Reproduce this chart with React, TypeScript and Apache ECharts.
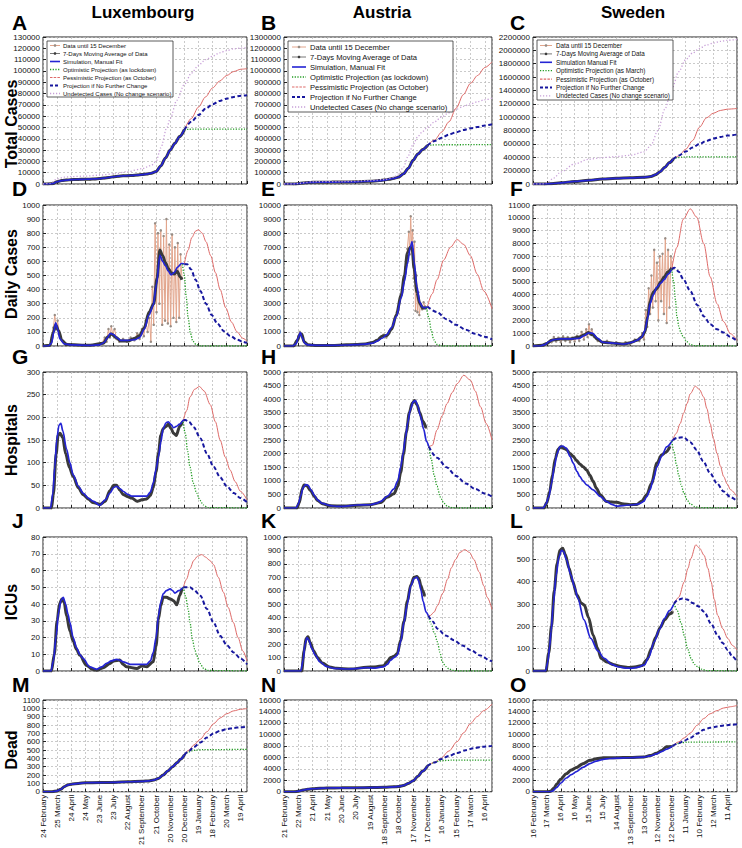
import React, { useEffect, useRef } from "react";
import * as echarts from "echarts";

type P = [number, number];

// ---------- tick labels ----------
const LUX_DATES = ["24 February","25 March","24 April","24 May","23 June","23 July","22 August","21 September","21 October","20 November","20 December","19 January","18 February","20 March","19 April"];
const AUT_DATES = ["21 February","22 March","21 April","21 May","20 June","20 July","19 August","18 September","18 October","17 November","17 December","16 January","15 February","17 March","16 April"];
const SWE_DATES = ["16 February","17 March","16 April","16 May","15 June","15 July","14 August","13 September","13 October","12 November","12 December","11 January","10 February","12 March","11 April"];

const COUNTRIES = ["Luxembourg", "Austria", "Sweden"];
const ROW_NAMES = ["Total Cases", "Daily Cases", "Hospitals", "ICUs", "Dead"];
const LETTERS = ["A","B","C","D","E","F","G","H","I","J","K","L","M","N","O"];
const LEGEND_LUX = ["Data until 15 December","7-Days Moving Average of Data","Simulation, Manual Fit","Optimistic Projection (as lockdown)","Pessimistic Projection (as October)","Projection if No Further Change","Undetected Cases (No change scenario)"];
const LEGEND_AUT = LEGEND_LUX;
const LEGEND_SWE = ["Data until 15 December","7-Days Moving Average of Data","Simulation Manual Fit","Optimistic Projection (as March)","Pessimistic Projection (as October)","Projection if No Further Change","Undetected Cases (No change scenario)"];

// ---------- axis ranges ----------
const X_MAX = [433, 435, 441];
const Y_MAX = [130000, 1300000, 2200000, 1000, 10000, 11000, 300, 5000, 5000, 80, 1000, 600, 1100, 16000, 16000];
const Y_STEP = [10000, 100000, 200000, 100, 1000, 1000, 50, 500, 500, 10, 100, 100, 100, 2000, 2000];

// ---------- A: Luxembourg total ----------
const LUX_TOTAL: P[] = [[0,0],[10,0],[20,300],[30,2000],[40,3000],[50,3500],[60,3800],[70,4000],[80,4100],[90,4200],[100,4300],[110,4500],[120,4800],[130,5200],[140,5800],[150,6400],[160,6900],[170,7200],[180,7400],[190,7600],[200,7900],[210,8300],[220,8800],[230,9600],[240,11000],[250,16000],[260,23000],[270,30000],[280,36000],[290,42000],[300,48000]];
const LUX_TOTAL_OPT: P[] = [[300,48000],[310,48400],[325,48500],[433,48600]];
const LUX_TOTAL_PESS: P[] = [[300,48000],[315,58000],[330,68000],[345,77000],[360,85000],[375,91000],[390,96000],[405,99500],[420,101500],[433,102000]];
const LUX_TOTAL_NOCHG: P[] = [[300,48000],[315,55000],[330,61000],[345,66500],[360,70500],[375,73500],[390,75500],[405,77000],[420,78000],[433,78500]];
const LUX_TOTAL_UNDET: P[] = [[0,0],[15,500],[30,4500],[45,6000],[60,6500],[90,7000],[120,7800],[150,9000],[180,11000],[210,13500],[230,16500],[240,20000],[250,32000],[263,50000],[270,58000],[284,74000],[300,88000],[315,98000],[330,105000],[345,110000],[360,113000],[375,116000],[390,118000],[405,119500],[420,120200],[433,120500]];

// ---------- B: Austria total ----------
const AUT_TOTAL: P[] = [[0,0],[20,0],[25,1000],[30,3000],[40,9000],[50,13000],[60,15000],[80,16000],[100,17000],[120,17500],[150,19500],[180,25000],[200,30000],[210,35000],[220,42000],[230,50000],[240,62000],[250,90000],[260,140000],[270,210000],[280,265000],[290,305000],[300,340000]];
const AUT_TOTAL_OPT: P[] = [[300,340000],[310,345000],[325,347000],[435,348000]];
const AUT_TOTAL_PESS: P[] = [[300,340000],[315,390000],[330,460000],[345,550000],[360,670000],[375,790000],[390,890000],[405,960000],[420,1030000],[435,1080000]];
const AUT_TOTAL_NOCHG: P[] = [[300,340000],[315,380000],[330,410000],[345,437000],[360,458000],[375,477000],[390,492000],[405,505000],[420,518000],[435,528000]];
const AUT_TOTAL_UNDET: P[] = [[0,0],[20,0],[30,6000],[60,20000],[120,22000],[180,30000],[210,40000],[230,60000],[240,90000],[250,150000],[260,250000],[270,350000],[280,420000],[290,465000],[300,500000],[315,550000],[330,595000],[345,630000],[360,660000],[375,686000],[390,708000],[405,728000],[420,745000],[435,760000]];

// ---------- C: Sweden total ----------
const SWE_TOTAL: P[] = [[0,0],[25,0],[40,5000],[60,18000],[90,38000],[120,55000],[150,75000],[180,85000],[210,92000],[240,100000],[255,112000],[265,140000],[275,185000],[285,250000],[295,320000],[303,370000]];
const SWE_TOTAL_OPT: P[] = [[303,370000],[310,390000],[320,402000],[335,405000],[441,406000]];
const SWE_TOTAL_PESS: P[] = [[303,370000],[315,420000],[330,520000],[345,650000],[360,850000],[375,990000],[390,1060000],[405,1100000],[420,1120000],[441,1130000]];
const SWE_TOTAL_NOCHG: P[] = [[303,370000],[315,425000],[330,485000],[345,545000],[360,600000],[375,645000],[390,680000],[405,705000],[420,725000],[441,740000]];
const SWE_TOTAL_UNDET: P[] = [[0,0],[20,0],[30,20000],[45,90000],[60,180000],[90,300000],[120,370000],[150,395000],[180,410000],[210,430000],[240,480000],[255,580000],[270,800000],[285,1120000],[300,1420000],[315,1680000],[330,1860000],[345,1960000],[360,2030000],[375,2080000],[390,2110000],[405,2135000],[420,2150000],[441,2165000]];

// ---------- D: Luxembourg daily ----------
const LUX_DAILY_RAW: P[] = [[0,0],[15,10],[19,60],[22,130],[25,220],[28,120],[31,180],[34,90],[37,60],[42,30],[50,15],[70,5],[100,5],[125,20],[131,60],[135,30],[139,120],[142,60],[145,140],[148,80],[152,120],[156,50],[162,30],[170,50],[178,30],[186,60],[194,40],[200,90],[205,50],[210,120],[214,70],[218,180],[222,100],[226,200],[229,30],[232,420],[235,150],[238,870],[241,240],[244,800],[247,300],[250,820],[253,150],[256,780],[259,180],[262,900],[265,160],[268,720],[271,140],[274,790],[277,200],[280,700],[283,170],[286,730],[289,200],[292,650],[295,480]];
const LUX_DAILY_AVG: P[] = [[0,0],[15,5],[22,100],[27,150],[33,110],[40,40],[50,10],[100,5],[128,20],[138,65],[145,85],[155,60],[165,35],[180,35],[195,55],[205,75],[215,130],[225,240],[235,300],[242,480],[248,680],[254,640],[260,590],[266,550],[272,520],[278,510],[285,530],[291,490],[295,470]];
const LUX_DAILY_SIM: P[] = [[0,0],[12,0],[18,20],[23,100],[27,165],[31,120],[36,50],[45,15],[60,8],[100,5],[120,8],[130,25],[137,60],[143,90],[150,80],[158,55],[165,40],[180,40],[195,45],[205,60],[215,120],[225,220],[234,290],[241,440],[248,645],[254,600],[260,570],[266,530],[272,505],[278,520],[286,560],[294,585],[300,582]];
const LUX_DAILY_OPT: P[] = [[296,580],[300,500],[304,350],[308,200],[313,90],[318,35],[325,10],[335,0],[433,0]];
const LUX_DAILY_PESS: P[] = [[300,582],[308,680],[316,770],[324,815],[330,825],[338,800],[346,740],[356,640],[366,520],[376,400],[388,270],[400,170],[412,100],[424,55],[433,35]];
const LUX_DAILY_NOCHG: P[] = [[300,582],[306,580],[314,545],[324,470],[334,390],[346,300],[358,220],[370,160],[384,105],[398,70],[412,45],[424,30],[433,22]];

// ---------- E: Austria daily ----------
const AUT_DAILY_RAW: P[] = [[0,0],[20,0],[26,300],[30,700],[33,1000],[36,800],[39,600],[44,200],[55,60],[80,40],[110,50],[140,90],[160,110],[180,180],[190,300],[200,500],[208,800],[214,600],[220,900],[228,1500],[236,2400],[244,3500],[250,4500],[254,5600],[258,6900],[261,8100],[263,6500],[265,9200],[267,7000],[269,8200],[271,4800],[273,7400],[275,2500],[277,5000],[279,2400],[281,3800],[283,2200],[286,3000],[289,2600],[292,3100],[295,2800]];
const AUT_DAILY_AVG: P[] = [[0,0],[20,0],[28,400],[33,800],[37,850],[42,300],[50,80],[70,40],[100,40],[130,80],[150,100],[170,150],[185,250],[195,400],[205,700],[215,750],[225,1200],[235,2200],[245,3600],[252,5000],[258,6600],[264,7000],[268,6900],[272,5500],[278,3800],[284,3000],[290,2700],[298,2700]];
const AUT_DAILY_SIM: P[] = [[0,0],[18,0],[25,150],[30,600],[34,950],[38,600],[43,200],[50,80],[70,40],[100,40],[130,70],[150,100],[170,130],[185,200],[195,350],[205,550],[215,800],[225,1300],[235,2100],[245,3400],[252,4600],[258,5800],[264,7000],[268,7400],[272,6000],[278,4200],[284,3100],[290,2750],[296,2700],[300,2800]];
const AUT_DAILY_OPT: P[] = [[298,2700],[303,2000],[308,1100],[313,450],[320,120],[330,0],[435,0]];
const AUT_DAILY_PESS: P[] = [[300,2800],[310,3700],[320,4700],[334,6100],[348,7000],[362,7550],[376,7200],[390,6400],[404,5100],[418,3900],[435,2650]];
const AUT_DAILY_NOCHG: P[] = [[300,2800],[320,2400],[340,1900],[360,1500],[380,1150],[400,870],[420,650],[435,480]];

// ---------- F: Sweden daily ----------
const SWE_DAILY_RAW: P[] = [[0,0],[20,50],[30,200],[40,300],[45,700],[50,350],[55,650],[60,300],[65,750],[70,400],[75,700],[80,300],[85,650],[90,350],[95,800],[100,400],[105,1100],[110,500],[115,1300],[118,700],[121,1700],[124,900],[127,1300],[132,700],[140,400],[150,300],[160,400],[170,200],[180,300],[190,100],[200,300],[210,150],[220,500],[230,400],[236,1000],[240,500],[244,2800],[247,1500],[250,4500],[253,2500],[256,5500],[259,3000],[262,7500],[265,3500],[268,6500],[271,2000],[274,7000],[277,3500],[280,7200],[283,2500],[286,8400],[289,1800],[292,7500],[295,3000],[298,7000],[301,6000]];
const SWE_DAILY_AVG: P[] = [[0,0],[20,50],[30,200],[40,450],[60,550],[80,550],[100,700],[112,900],[120,1050],[130,850],[140,500],[150,300],[165,250],[180,200],[195,150],[210,250],[225,450],[235,700],[242,1100],[248,2300],[253,3500],[260,4200],[268,4500],[276,5000],[284,5400],[292,5800],[300,6100]];
const SWE_DAILY_SIM: P[] = [[0,0],[15,0],[25,100],[35,350],[45,500],[60,550],[80,550],[100,600],[110,800],[120,1000],[128,1000],[140,600],[150,300],[165,250],[180,200],[195,150],[205,200],[215,300],[225,450],[235,700],[242,1200],[248,2200],[253,3300],[260,4000],[268,4600],[276,4900],[284,5200],[292,5600],[300,6000]];
const SWE_DAILY_OPT: P[] = [[300,6000],[304,5000],[308,3600],[311,2300],[316,1400],[320,1000],[325,700],[332,350],[340,120],[350,20],[441,0]];
const SWE_DAILY_PESS: P[] = [[300,6000],[311,7700],[325,9900],[340,10700],[354,10050],[369,8000],[383,5400],[398,3300],[412,1900],[427,960],[441,440]];
const SWE_DAILY_NOCHG: P[] = [[300,6000],[306,6100],[315,5800],[325,5200],[340,4300],[355,3200],[370,2300],[383,1700],[398,1300],[412,1050],[427,700],[441,400]];

// ---------- G: Luxembourg hospitals ----------
const LUX_HOSP_AVG: P[] = [[0,0],[18,0],[22,30],[28,120],[32,160],[36,165],[42,155],[48,120],[56,90],[64,70],[75,45],[85,30],[96,20],[106,12],[121,8],[132,15],[142,38],[150,50],[156,50],[163,40],[170,30],[180,25],[188,22],[200,15],[210,18],[220,20],[228,28],[234,45],[240,80],[245,120],[250,160],[255,175],[261,180],[266,185],[272,175],[277,165],[283,160],[290,180],[296,190]];
const LUX_HOSP_SIM: P[] = [[0,0],[16,0],[21,33],[25,90],[29,150],[34,183],[38,187],[42,170],[50,130],[57,100],[64,73],[75,48],[85,33],[96,22],[106,15],[121,6],[132,18],[142,33],[150,45],[156,48],[163,43],[170,37],[180,30],[188,26],[206,26],[220,26],[228,35],[234,55],[240,85],[245,113],[250,145],[255,175],[261,188],[266,190],[272,184],[277,177],[283,180],[290,185],[298,194]];
const LUX_HOSP_OPT: P[] = [[297,190],[302,165],[307,125],[312,90],[319,55],[326,33],[333,17],[340,7],[350,1],[433,0]];
const LUX_HOSP_PESS: P[] = [[298,194],[305,215],[312,245],[322,262],[332,268],[342,258],[355,228],[366,190],[376,150],[387,112],[397,84],[408,58],[419,37],[433,18]];
const LUX_HOSP_NOCHG: P[] = [[298,194],[302,194],[310,190],[320,178],[334,154],[348,120],[362,91],[376,68],[390,48],[405,33],[419,22],[433,13]];

// ---------- H: Austria hospitals ----------
const AUT_HOSP_AVG: P[] = [[0,0],[27,0],[32,200],[38,700],[42,850],[48,820],[55,650],[64,420],[70,280],[80,160],[97,80],[125,70],[153,100],[181,120],[202,200],[216,400],[230,520],[238,800],[244,1300],[250,2000],[256,2800],[262,3500],[268,3850],[273,3950],[278,3800],[284,3500],[290,3200],[297,2950]];
const AUT_HOSP_SIM: P[] = [[0,0],[25,0],[30,150],[35,450],[40,750],[45,860],[50,840],[57,650],[64,450],[70,300],[80,170],[97,85],[110,60],[125,60],[153,110],[181,120],[195,180],[202,240],[216,430],[230,700],[238,1000],[244,1500],[249,2000],[254,2600],[259,3150],[264,3600],[270,3900],[275,3950],[280,3750],[285,3400],[292,2900],[298,2450],[303,2250]];
const AUT_HOSP_OPT: P[] = [[303,2250],[308,1800],[314,1200],[320,800],[327,400],[334,180],[342,60],[352,10],[365,0],[435,0]];
const AUT_HOSP_PESS: P[] = [[303,2250],[310,2300],[320,2870],[331,3400],[341,3840],[352,4250],[362,4570],[376,4880],[390,4700],[400,4300],[411,3720],[423,3100],[435,2500]];
const AUT_HOSP_NOCHG: P[] = [[303,2250],[320,1850],[340,1500],[360,1180],[380,900],[400,700],[420,530],[435,420]];

// ---------- I: Sweden hospitals ----------
const SWE_HOSP_AVG: P[] = [[0,0],[24,0],[30,200],[36,600],[42,1200],[48,1800],[54,2150],[60,2250],[66,2200],[72,2150],[80,2000],[87,1900],[94,1750],[101,1620],[108,1520],[116,1400],[123,1200],[130,980],[137,730],[145,490],[159,240],[170,220],[181,210],[195,150],[210,120],[224,130],[235,250],[246,490],[256,900],[268,1650],[278,1950],[287,2050],[296,2250]];
const SWE_HOSP_SIM: P[] = [[0,0],[22,0],[28,150],[34,400],[40,900],[46,1500],[52,2000],[58,2250],[64,2280],[72,2200],[80,1900],[87,1650],[95,1350],[101,1160],[108,1000],[116,850],[130,670],[145,430],[159,240],[170,130],[181,70],[195,90],[210,110],[224,130],[232,170],[239,240],[246,420],[253,670],[260,1050],[268,1520],[278,1900],[289,2250],[302,2500]];
const SWE_HOSP_OPT: P[] = [[300,2450],[305,2050],[310,1600],[315,1200],[320,870],[326,560],[333,300],[340,150],[350,50],[360,10],[441,0]];
const SWE_HOSP_PESS: P[] = [[302,2500],[310,2750],[318,3100],[326,3500],[333,3840],[340,4200],[351,4480],[360,4350],[369,4080],[376,3650],[383,3100],[390,2550],[398,2000],[405,1550],[412,1160],[420,880],[427,670],[441,420]];
const SWE_HOSP_NOCHG: P[] = [[302,2500],[312,2580],[325,2600],[340,2420],[354,2130],[368,1720],[383,1280],[398,900],[412,610],[427,400],[441,250]];

// ---------- J: Luxembourg ICUs ----------
const LUX_ICU_AVG: P[] = [[0,0],[18,0],[24,10],[30,30],[35,40],[40,43],[45,41],[50,33],[57,24],[64,18],[71,13],[78,9.5],[92,3.5],[105,1],[114,0.5],[128,2],[142,4.5],[150,6],[163,6.5],[170,4],[177,2.5],[199,1.5],[210,3],[220,2.5],[234,5.5],[240,15],[245,31],[250,39],[255,44],[262,44],[270,43],[277,42],[284,39.5],[290,45],[295,49]];
const LUX_ICU_SIM: P[] = [[0,0],[17,0],[22,6],[28,21],[33,35],[38,42],[43,44],[48,40],[53,34],[57,29],[64,20],[71,14],[78,10],[85,7.5],[99,2.5],[114,1],[125,2.5],[135,4.5],[145,6],[156,7],[163,6.5],[170,5.5],[185,4],[200,4],[220,4],[228,6],[234,11],[240,20],[245,33],[250,41],[255,46],[262,48],[270,49],[275,48],[280,46.5],[288,48],[298,50]];
const LUX_ICU_OPT: P[] = [[298,50],[303,44],[308,37],[312,29],[317,19],[322,13],[326,9.5],[333,4.5],[341,1.6],[350,0.3],[433,0]];
const LUX_ICU_PESS: P[] = [[298,50],[305,55],[312,61],[320,66],[328,68.5],[337,69.5],[345,68],[354,66],[362,63.5],[372,56],[383,47],[393,38],[404,29],[414,20],[424,12],[433,6]];
const LUX_ICU_NOCHG: P[] = [[298,50],[305,50],[312,50],[320,48.5],[334,45],[348,37],[362,29],[376,21],[390,15.5],[405,11],[419,7.5],[433,4]];

// ---------- K: Austria ICUs ----------
const AUT_ICU_AVG: P[] = [[0,0],[37,0],[42,150],[46,240],[50,255],[55,210],[62,150],[70,100],[80,60],[95,30],[110,20],[140,15],[173,28],[190,30],[209,40],[216,70],[223,100],[230,110],[237,130],[244,230],[251,370],[258,520],[265,640],[272,700],[278,705],[282,690],[286,640],[290,600],[294,560]];
const AUT_ICU_SIM: P[] = [[0,0],[35,0],[40,80],[44,200],[48,250],[52,230],[58,170],[65,120],[75,69],[88,35],[103,20],[130,15],[150,18],[173,25],[190,22],[209,32],[216,50],[223,81],[230,100],[237,118],[244,220],[251,365],[258,500],[265,635],[272,690],[278,700],[282,670],[286,610],[291,520],[297,440],[302,412]];
const AUT_ICU_OPT: P[] = [[302,412],[308,350],[314,290],[321,217],[326,140],[331,69],[338,35],[345,15],[355,4],[365,0],[435,0]];
const AUT_ICU_PESS: P[] = [[302,412],[306,414],[314,440],[321,488],[332,580],[342,685],[350,770],[359,833],[368,885],[378,906],[388,885],[397,833],[408,740],[418,635],[425,550],[435,460]];
const AUT_ICU_NOCHG: P[] = [[302,412],[311,370],[321,315],[338,265],[356,229],[373,190],[391,155],[411,115],[432,76],[435,72]];

// ---------- L: Sweden ICUs ----------
const SWE_ICU_AVG: P[] = [[0,0],[28,0],[34,80],[40,200],[46,360],[52,480],[58,540],[64,550],[70,520],[78,460],[86,400],[95,340],[104,305],[111,295],[120,240],[130,160],[140,100],[147,57],[160,40],[175,28],[190,20],[205,16],[220,18],[236,25],[246,50],[256,100],[265,150],[275,195],[285,230],[295,255],[302,265]];
const SWE_ICU_SIM: P[] = [[0,0],[27,0],[32,40],[36,110],[39,176],[44,300],[50,429],[56,510],[62,540],[66,535],[72,500],[82,429],[90,375],[97,325],[110,230],[125,146],[140,90],[154,57],[170,30],[183,19],[200,13],[212,12],[225,16],[241,27],[250,60],[262,131],[273,185],[284,235],[295,270],[305,302]];
const SWE_ICU_OPT: P[] = [[305,302],[312,270],[320,215],[327,160],[334,101],[342,55],[349,30],[356,19],[365,8],[375,2],[441,0]];
const SWE_ICU_PESS: P[] = [[305,302],[315,330],[327,399],[335,460],[341,503],[352,565],[360,550],[370,518],[378,460],[385,400],[392,320],[399,250],[410,190],[421,146],[431,115],[441,94]];
const SWE_ICU_NOCHG: P[] = [[305,302],[313,318],[323,325],[333,320],[345,305],[357,290],[370,265],[385,212],[399,160],[410,125],[421,94],[431,65],[441,42]];

// ---------- M: Luxembourg dead ----------
const LUX_DEAD: P[] = [[0,0],[20,0],[30,10],[38,30],[45,60],[52,80],[60,90],[75,100],[90,108],[120,110],[150,112],[180,120],[210,125],[225,130],[235,140],[245,160],[255,200],[265,250],[275,300],[285,350],[292,390],[300,440]];
const LUX_DEAD_OPT: P[] = [[300,440],[307,470],[315,490],[325,500],[340,505],[433,508]];
const LUX_DEAD_PESS: P[] = [[300,440],[310,500],[320,560],[334,630],[348,720],[362,815],[376,885],[390,935],[405,970],[419,988],[433,998]];
const LUX_DEAD_NOCHG: P[] = [[300,440],[310,490],[320,535],[334,590],[348,650],[362,700],[376,730],[390,750],[405,765],[419,773],[433,777]];

// ---------- N: Austria dead ----------
const AUT_DEAD: P[] = [[0,0],[22,0],[30,100],[40,300],[50,450],[60,520],[75,600],[90,650],[120,680],[150,700],[180,730],[210,780],[230,850],[240,920],[250,1100],[260,1450],[270,1900],[280,2700],[290,3600],[300,4500]];
const AUT_DEAD_OPT: P[] = [[300,4500],[310,5000],[320,5300],[335,5450],[350,5500],[435,5500]];
const AUT_DEAD_PESS: P[] = [[300,4500],[315,5150],[327,5760],[345,7100],[362,8730],[376,10300],[390,11900],[404,13100],[418,14150],[435,15300]];
const AUT_DEAD_NOCHG: P[] = [[300,4500],[315,5100],[327,5650],[345,6250],[362,6770],[380,7250],[397,7600],[415,7850],[435,8000]];

// ---------- O: Sweden dead ----------
const SWE_DEAD_AVG: P[] = [[0,0],[32,0],[38,100],[45,600],[51,1290],[60,2200],[72,3130],[83,3800],[94,4250],[108,4900],[123,5480],[137,5750],[152,5930],[181,5950],[210,5960],[239,6050],[253,6300],[267,6700],[278,7200],[289,7830],[300,7900]];
const SWE_DEAD_SIM: P[] = [[0,0],[35,0],[42,100],[51,730],[60,1500],[72,2400],[83,3000],[94,3520],[108,4250],[123,4900],[137,5350],[152,5650],[166,5800],[181,5870],[210,5930],[239,6040],[253,6250],[267,6600],[278,7000],[289,7440],[302,8000]];
const SWE_DEAD_OPT: P[] = [[302,8000],[310,8350],[320,8550],[335,8650],[441,8700]];
const SWE_DEAD_PESS: P[] = [[302,8000],[315,8700],[327,9400],[340,10240],[355,11600],[369,12760],[383,13600],[398,14150],[412,14600],[427,14830],[441,15050]];
const SWE_DEAD_NOCHG: P[] = [[302,8000],[315,8450],[327,8900],[340,9400],[355,10150],[369,10800],[383,11150],[398,11360],[412,11550],[427,11680],[441,11750]];

// ---------- layout / style ----------
const FONT = '"Liberation Sans", Arial, Helvetica, sans-serif';
const COL_LEFT = [43, 284, 533];
const COL_WIDTH = [204, 208, 204];
const ROW_TOP = [37, 205, 372, 537, 700];
const ROW_HEIGHT = [147, 141, 136, 134, 96];

const C_DATA = "#e2a58c";
const C_DATA_MK = "#978c84";
const C_AVG = "#3a3a3a";
const C_SIM = "#2424d4";
const C_OPT = "#1f9a1f";
const C_PESS = "#de6a68";
const C_NOCHG = "#17179e";
const C_UNDET = "#c8a0d8";

type Panel = { raw: P[]; avg: P[]; sim: P[]; opt: P[]; pess: P[]; nochg: P[]; undet?: P[] };

const PANELS: Panel[] = [
  { raw: LUX_TOTAL, avg: LUX_TOTAL, sim: LUX_TOTAL, opt: LUX_TOTAL_OPT, pess: LUX_TOTAL_PESS, nochg: LUX_TOTAL_NOCHG, undet: LUX_TOTAL_UNDET },
  { raw: AUT_TOTAL, avg: AUT_TOTAL, sim: AUT_TOTAL, opt: AUT_TOTAL_OPT, pess: AUT_TOTAL_PESS, nochg: AUT_TOTAL_NOCHG, undet: AUT_TOTAL_UNDET },
  { raw: SWE_TOTAL, avg: SWE_TOTAL, sim: SWE_TOTAL, opt: SWE_TOTAL_OPT, pess: SWE_TOTAL_PESS, nochg: SWE_TOTAL_NOCHG, undet: SWE_TOTAL_UNDET },
  { raw: LUX_DAILY_RAW, avg: LUX_DAILY_AVG, sim: LUX_DAILY_SIM, opt: LUX_DAILY_OPT, pess: LUX_DAILY_PESS, nochg: LUX_DAILY_NOCHG },
  { raw: AUT_DAILY_RAW, avg: AUT_DAILY_AVG, sim: AUT_DAILY_SIM, opt: AUT_DAILY_OPT, pess: AUT_DAILY_PESS, nochg: AUT_DAILY_NOCHG },
  { raw: SWE_DAILY_RAW, avg: SWE_DAILY_AVG, sim: SWE_DAILY_SIM, opt: SWE_DAILY_OPT, pess: SWE_DAILY_PESS, nochg: SWE_DAILY_NOCHG },
  { raw: LUX_HOSP_AVG, avg: LUX_HOSP_AVG, sim: LUX_HOSP_SIM, opt: LUX_HOSP_OPT, pess: LUX_HOSP_PESS, nochg: LUX_HOSP_NOCHG },
  { raw: AUT_HOSP_AVG, avg: AUT_HOSP_AVG, sim: AUT_HOSP_SIM, opt: AUT_HOSP_OPT, pess: AUT_HOSP_PESS, nochg: AUT_HOSP_NOCHG },
  { raw: SWE_HOSP_AVG, avg: SWE_HOSP_AVG, sim: SWE_HOSP_SIM, opt: SWE_HOSP_OPT, pess: SWE_HOSP_PESS, nochg: SWE_HOSP_NOCHG },
  { raw: LUX_ICU_AVG, avg: LUX_ICU_AVG, sim: LUX_ICU_SIM, opt: LUX_ICU_OPT, pess: LUX_ICU_PESS, nochg: LUX_ICU_NOCHG },
  { raw: AUT_ICU_AVG, avg: AUT_ICU_AVG, sim: AUT_ICU_SIM, opt: AUT_ICU_OPT, pess: AUT_ICU_PESS, nochg: AUT_ICU_NOCHG },
  { raw: SWE_ICU_AVG, avg: SWE_ICU_AVG, sim: SWE_ICU_SIM, opt: SWE_ICU_OPT, pess: SWE_ICU_PESS, nochg: SWE_ICU_NOCHG },
  { raw: LUX_DEAD, avg: LUX_DEAD, sim: LUX_DEAD, opt: LUX_DEAD_OPT, pess: LUX_DEAD_PESS, nochg: LUX_DEAD_NOCHG },
  { raw: AUT_DEAD, avg: AUT_DEAD, sim: AUT_DEAD, opt: AUT_DEAD_OPT, pess: AUT_DEAD_PESS, nochg: AUT_DEAD_NOCHG },
  { raw: SWE_DEAD_AVG, avg: SWE_DEAD_AVG, sim: SWE_DEAD_SIM, opt: SWE_DEAD_OPT, pess: SWE_DEAD_PESS, nochg: SWE_DEAD_NOCHG },
];

const DATES = [LUX_DATES, AUT_DATES, SWE_DATES];

function lineSeries(i: number, data: P[], color: string, width: number, extra: any = {}) {
  return {
    type: "line",
    xAxisIndex: i,
    yAxisIndex: i,
    data,
    showSymbol: false,
    symbol: "none",
    silent: true,
    animation: false,
    lineStyle: { color, width, ...(extra.lineStyle || {}) },
    itemStyle: { color },
    smooth: extra.smooth ?? 0.3,
    smoothMonotone: "x",
    z: extra.z ?? 3,
    ...(extra.symbol ? { symbol: extra.symbol, showSymbol: true, symbolSize: extra.symbolSize, itemStyle: { color: extra.symbolColor } } : {}),
  };
}

function legendGraphics(x: number, y: number, w: number, h: number, row0: number, dy: number, ix0: number, ix1: number, tx: number, fs: number, labels: string[]) {
  const els: any[] = [
    { type: "rect", shape: { x, y, width: w, height: h }, style: { fill: "#fff", stroke: "#333", lineWidth: 0.8 }, z: 50 },
  ];
  const styles: any[] = [
    { stroke: C_DATA, lineWidth: 1, mk: C_DATA_MK },
    { stroke: "#777", lineWidth: 1, mk: C_AVG },
    { stroke: C_SIM, lineWidth: 1.6 },
    { stroke: C_OPT, lineWidth: 1.3, lineDash: [1.2, 1.5] },
    { stroke: C_PESS, lineWidth: 1.1, lineDash: [2.5, 1.2] },
    { stroke: C_NOCHG, lineWidth: 2, lineDash: [3, 2] },
    { stroke: C_UNDET, lineWidth: 1.3, lineDash: [1.2, 1.8] },
  ];
  labels.forEach((t, k) => {
    const ry = row0 + k * dy;
    const s = styles[k];
    els.push({ type: "line", shape: { x1: ix0, y1: ry, x2: ix1, y2: ry }, style: { stroke: s.stroke, lineWidth: s.lineWidth, lineDash: s.lineDash || null }, z: 51 });
    if (s.mk) els.push({ type: "circle", shape: { cx: (ix0 + ix1) / 2, cy: ry, r: 1.3 }, style: { fill: s.mk }, z: 52 });
    els.push({ type: "text", x: tx, y: ry, style: { text: t, fontSize: fs, lineHeight: fs, fontFamily: FONT, fill: "#111", align: "left", verticalAlign: "middle" }, z: 52 });
  });
  return els;
}

export default function App() {
  const ref = useRef<HTMLDivElement>(null);
  useEffect(() => {
    document.body.style.margin = "0";
    if (!ref.current) return;
    const chart = echarts.init(ref.current, undefined, { renderer: "svg" });

    const grids: any[] = [];
    const xAxes: any[] = [];
    const yAxes: any[] = [];
    const series: any[] = [];

    PANELS.forEach((p, i) => {
      const row = Math.floor(i / 3);
      const col = i % 3;
      grids.push({ left: COL_LEFT[col], top: ROW_TOP[row], width: COL_WIDTH[col], height: ROW_HEIGHT[row], show: true, borderColor: "#222", borderWidth: 1, backgroundColor: "#fff" });
      const labels = DATES[col];
      xAxes.push({
        type: "value", gridIndex: i, min: 0, max: X_MAX[col], interval: 30,
        axisLine: { show: false },
        axisTick: { show: true, inside: true, length: 3, lineStyle: { color: "#222" } },
        splitLine: { show: true, lineStyle: { color: "#bdbdbd", width: 0.8, type: [2, 2] } },
        axisLabel: {
          show: row === 4, rotate: 90, fontSize: 8, margin: 3, color: "#111", fontFamily: FONT,
          showMaxLabel: false,
          formatter: (v: number) => (v % 30 === 0 && labels[v / 30] ? labels[v / 30] : ""),
        },
      });
      yAxes.push({
        type: "value", gridIndex: i, min: 0, max: Y_MAX[i], interval: Y_STEP[i],
        axisLine: { show: false },
        axisTick: { show: true, inside: true, length: 3, lineStyle: { color: "#222" } },
        splitLine: { show: true, lineStyle: { color: "#bdbdbd", width: 0.8, type: [2, 2] } },
        axisLabel: { fontSize: 8, margin: 3, color: "#111", fontFamily: FONT, formatter: (v: number) => String(v) },
      });

      series.push(lineSeries(i, p.raw, C_DATA, 1, { smooth: false, z: 2, symbol: "circle", symbolSize: 2.5, symbolColor: C_DATA_MK }));
      series.push(lineSeries(i, p.avg, C_AVG, 3, { smooth: 0.3, z: 3 }));
      series.push(lineSeries(i, p.sim, C_SIM, 1.7, { smooth: 0.3, z: 4 }));
      if (p.undet) series.push(lineSeries(i, p.undet, C_UNDET, 1.3, { smooth: 0.3, z: 5, lineStyle: { type: [1.2, 2] } }));
      series.push(lineSeries(i, p.opt, C_OPT, 1.3, { smooth: 0.3, z: 5, lineStyle: { type: [1.2, 1.5] } }));
      series.push(lineSeries(i, p.pess, C_PESS, 1, { smooth: 0.3, z: 5 }));
      series.push(lineSeries(i, p.nochg, C_NOCHG, 2, { smooth: 0.3, z: 6, lineStyle: { type: [4, 2.5] } }));
    });

    const graphic: any[] = [];
    const colCenters = [143, 382, 633];
    COUNTRIES.forEach((c, k) => {
      graphic.push({ type: "text", x: colCenters[k], y: 12, style: { text: c, fontSize: 17, lineHeight: 17, fontWeight: "bold", fontFamily: FONT, fill: "#000", align: "center", verticalAlign: "middle" } });
    });
    const rowCenters = [124, 274, 440, 602, 750];
    ROW_NAMES.forEach((r, k) => {
      graphic.push({ type: "text", x: 11, y: rowCenters[k], rotation: Math.PI / 2, style: { text: r, fontSize: 16, lineHeight: 13, fontWeight: "bold", fontFamily: FONT, fill: "#000", align: "center", verticalAlign: "middle" } });
    });
    const letterX = [12, 261, 510];
    const letterBase = [33, 199, 367, 531, 695];
    LETTERS.forEach((l, i) => {
      graphic.push({ type: "text", x: letterX[i % 3], y: letterBase[Math.floor(i / 3)] - 11, style: { text: l, fontSize: 21, lineHeight: 15, fontWeight: "bold", fontFamily: FONT, fill: "#000", align: "left", verticalAlign: "middle" } });
    });
    graphic.push(...legendGraphics(47, 41, 126, 56, 45.5, 8, 50, 60, 63, 6, LEGEND_LUX));
    graphic.push(...legendGraphics(288, 41, 165, 71, 47, 10, 292, 306, 310, 7.6, LEGEND_AUT));
    graphic.push(...legendGraphics(537, 40, 136, 60, 45.5, 8.4, 540, 552, 556, 6.3, LEGEND_SWE));

    chart.setOption({
      animation: false,
      backgroundColor: "#fff",
      grid: grids,
      xAxis: xAxes,
      yAxis: yAxes,
      series,
      graphic,
    });
    return () => chart.dispose();
  }, []);
  return <div ref={ref} style={{ width: 742, height: 848 }} />;
}
